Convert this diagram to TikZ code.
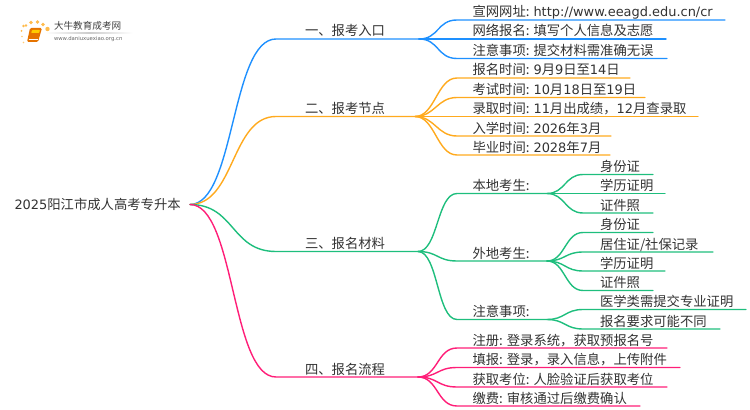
\documentclass[tikz,border=0pt]{standalone}
\usepackage{fontspec}
\setmainfont{Noto Sans CJK SC}
\newfontfamily\latinf{DejaVu Sans}
\newcommand{\La}[1]{{\latinf\fontsize{9.7pt}{12pt}\selectfont #1}}
\definecolor{cblue}{RGB}{30,144,255}
\definecolor{corange}{RGB}{255,170,30}
\definecolor{cgreen}{RGB}{30,190,125}
\definecolor{cpink}{RGB}{255,30,120}
\definecolor{ctext}{RGB}{50,50,50}
\tikzset{
  lbl/.style={anchor=base west,inner sep=0pt,outer sep=0pt,text=ctext,font=\fontsize{10pt}{12pt}\selectfont},
  wire/.style={line width=1.05pt,line cap=round,line join=round},
}
% name, hub, colour, dx, xstart, xend, y, xtext, text
\newcommand{\branch}[9]{%
  \coordinate (#1-a) at (#5,#7);
  \coordinate (#1-b) at (#6,#7);
  \node[lbl] (#1) at (#8,#7-3) {#9};
  \draw[wire,#3] (#2) .. controls +(#4,0) and +(-#4,0) .. (#1-a) -- (#1-b);
}
\begin{document}
\begin{tikzpicture}[x=0.75pt,y=-0.75pt]
\useasboundingbox (0,0) rectangle (750,410);
% logo
\fill[corange!80] (23.5,26) circle (1.3);
\fill[corange!80] (21.5,31) circle (1);
\fill[corange!80] (26,25.5) circle (1.3);
\fill[corange!80] (31,22.5) circle (1.8);
\fill[corange!80] (37.5,22) circle (1.9);
\fill[corange!80] (43,24.5) circle (1.8);
\fill[corange!80] (47.5,29) circle (2.2);
\fill[corange!60] (22,36.5) circle (.9);
\fill[corange!60] (23.5,42.5) circle (.8);
\fill[orange!90!black,rounded corners=1pt] (30,28) -- (42,28) -- (38,42) -- (27,42) -- cycle;
\fill[orange!40!yellow,rounded corners=.5pt] (32,30) -- (40,30) -- (39.2,33) -- (31.2,33) -- cycle;
\draw[white,line width=.4pt] (28.5,39.5) -- (38,39.5);
\node[lbl,text=black!75,font=\fontsize{7.2pt}{8pt}\selectfont] (logot) at (54,30) {大牛教育成考网};
\node[lbl,text=black!60,font=\fontsize{4pt}{5pt}\selectfont] (logou) at (54,41) {\latinf www.daniuxuexiao.org.cn};
\shade[left color=white,right color=white,middle color=black!20] (45,33) rectangle (133,33.6);
% root
\node[lbl] (root) at (14.5,209) {\La{2025}阳江市成人高考专升本};
\coordinate (rootout) at (190,204.5);
% level 1
\branch{a}{rootout}{cblue}{45}{276}{419}{39}{305}{一、报考入口}
\branch{b}{rootout}{corange}{45}{276}{415}{116.5}{305}{二、报考节点}
\branch{c}{rootout}{cgreen}{45}{276}{418}{251.5}{305}{三、报名材料}
\branch{d}{rootout}{cpink}{45}{276}{418}{377}{305}{四、报名流程}
% blue leaves
\branch{a1}{a-b}{cblue}{20}{457}{725}{20}{472.5}{宣网网址: \La{http://www.eeagd.edu.cn/cr}}
\branch{a2}{a-b}{cblue}{20}{457}{666}{39}{472.5}{网络报名: 填写个人信息及志愿}
\branch{a3}{a-b}{cblue}{20}{457}{667}{58.5}{472.5}{注意事项: 提交材料需准确无误}
% orange leaves
\branch{b1}{b-b}{corange}{20}{457}{630}{78}{472.5}{报名时间: \La{9}月\La{9}日至\La{14}日}
\branch{b2}{b-b}{corange}{20}{457}{645}{97.5}{472.5}{考试时间: \La{10}月\La{18}日至\La{19}日}
\branch{b3}{b-b}{corange}{20}{457}{698}{116.5}{472.5}{录取时间: \La{11}月出成绩，\La{12}月查录取}
\branch{b4}{b-b}{corange}{20}{457}{611}{136}{472.5}{入学时间: \La{2026}年\La{3}月}
\branch{b5}{b-b}{corange}{20}{457}{610}{155}{472.5}{毕业时间: \La{2028}年\La{7}月}
% green second level
\branch{c1}{c-b}{cgreen}{20}{457}{547}{193.5}{472.5}{本地考生:}
\branch{c2}{c-b}{cgreen}{20}{457}{547}{261}{472.5}{外地考生:}
\branch{c3}{c-b}{cgreen}{20}{457}{547}{319.5}{472.5}{注意事项:}
% green leaves
\branch{c11}{c1-b}{cgreen}{18}{583}{653}{174.5}{600}{身份证}
\branch{c12}{c1-b}{cgreen}{18}{583}{665}{193.5}{600}{学历证明}
\branch{c13}{c1-b}{cgreen}{18}{583}{653}{213}{600}{证件照}
\branch{c21}{c2-b}{cgreen}{18}{583}{653}{232.5}{600}{身份证}
\branch{c22}{c2-b}{cgreen}{18}{583}{713}{252}{600}{居住证/社保记录}
\branch{c23}{c2-b}{cgreen}{18}{583}{665}{271}{600}{学历证明}
\branch{c24}{c2-b}{cgreen}{18}{583}{653}{290.5}{600}{证件照}
\branch{c31}{c3-b}{cgreen}{18}{583}{746}{309.5}{600}{医学类需提交专业证明}
\branch{c32}{c3-b}{cgreen}{18}{583}{720}{329}{600}{报名要求可能不同}
% pink leaves
\branch{d1}{d-b}{cpink}{20}{457}{667}{348}{472.5}{注册: 登录系统，获取预报名号}
\branch{d2}{d-b}{cpink}{20}{457}{680}{367.5}{472.5}{填报: 登录，录入信息，上传附件}
\branch{d3}{d-b}{cpink}{20}{457}{667}{387}{472.5}{获取考位: 人脸验证后获取考位}
\branch{d4}{d-b}{cpink}{20}{457}{640}{406}{472.5}{缴费: 审核通过后缴费确认}
\end{tikzpicture}
\end{document}
